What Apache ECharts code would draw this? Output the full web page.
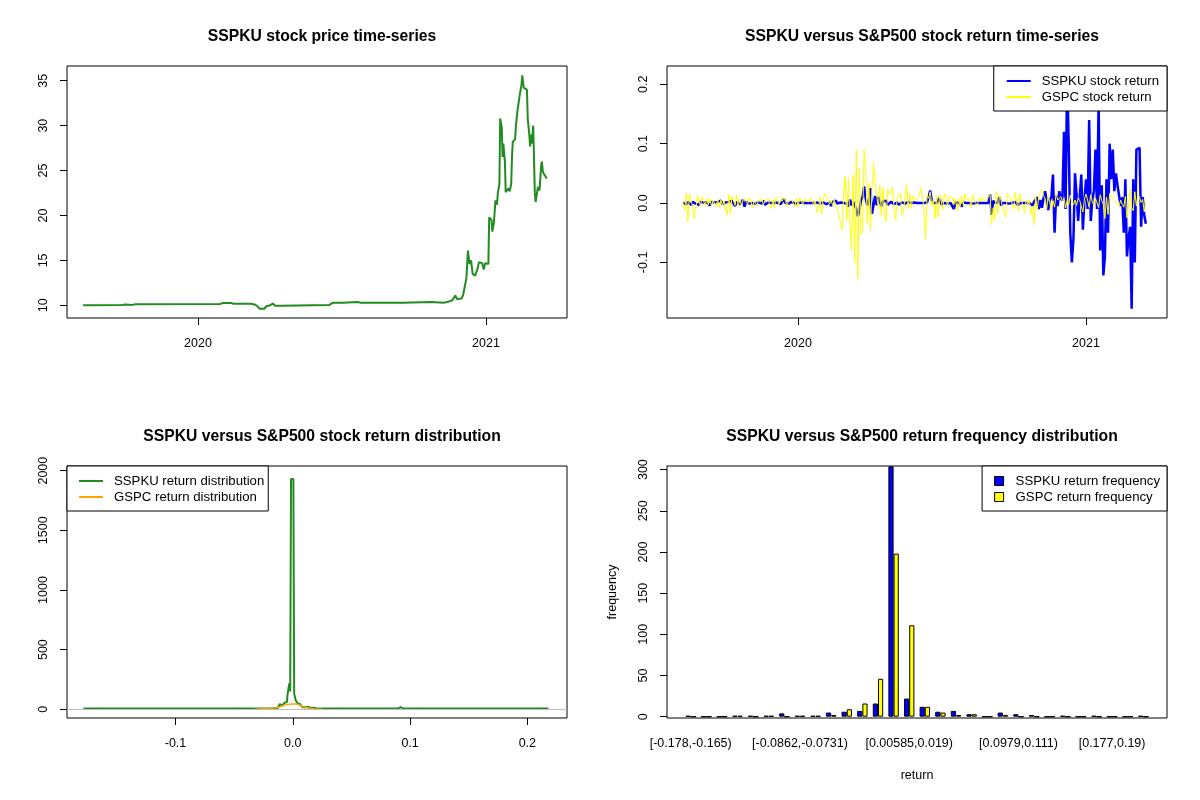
<!DOCTYPE html>
<html>
<head>
<meta charset="utf-8">
<title>SSPKU vs S&amp;P500</title>
<script src="https://cdn.jsdelivr.net/npm/echarts@6/dist/echarts.min.js"></script>
<style>
  html, body { margin: 0; padding: 0; background: #fff; }
  #chart { width: 1200px; height: 800px; }
</style>
</head>
<body>
<div id="chart"></div>
<script>
// ---------- data ----------

// SSPKU closing price (turning points of the daily line)
const priceDates = ['2019-08-08','2019-09-26','2019-10-01','2019-10-09','2019-10-14','2020-01-29','2020-02-01','2020-02-12','2020-02-15','2020-03-08',
  '2020-03-13','2020-03-16','2020-03-19','2020-03-25','2020-03-28','2020-04-01','2020-04-05','2020-04-08','2020-04-16','2020-04-18',
  '2020-06-16','2020-06-20','2020-07-03','2020-07-05','2020-07-22','2020-07-25','2020-09-17','2020-09-19','2020-10-23','2020-10-25',
  '2020-11-09','2020-11-14','2020-11-19','2020-11-23','2020-11-25','2020-12-01','2020-12-03','2020-12-05','2020-12-07','2020-12-09',
  '2020-12-11','2020-12-13','2020-12-15','2020-12-18','2020-12-21','2020-12-23','2020-12-27','2020-12-29','2020-12-31','2021-01-04',
  '2021-01-05','2021-01-08','2021-01-09','2021-01-11','2021-01-13','2021-01-15','2021-01-16','2021-01-18','2021-01-19','2021-01-21',
  '2021-01-22','2021-01-23','2021-01-25','2021-01-26','2021-01-29','2021-01-31','2021-02-02','2021-02-03','2021-02-04','2021-02-07',
  '2021-02-08','2021-02-10','2021-02-13','2021-02-15','2021-02-16','2021-02-18','2021-02-20','2021-02-22','2021-02-23','2021-02-25',
  '2021-02-26','2021-02-27','2021-02-28','2021-03-02','2021-03-03','2021-03-04','2021-03-05','2021-03-07','2021-03-08','2021-03-10',
  '2021-03-12','2021-03-13','2021-03-14','2021-03-15','2021-03-17','2021-03-18','2021-03-19'];
const priceValues = [10.0, 10.05, 10.1, 10.05, 10.12, 10.15, 10.25, 10.25, 10.18, 10.18,
  10.1, 9.95, 9.62, 9.62, 9.9, 9.98, 10.2, 9.95, 9.95, 10.05,
  10.05, 10.28, 10.3, 10.38, 10.38, 10.3, 10.3, 10.38, 10.38, 10.28,
  10.3, 10.4, 10.55, 11.1, 10.7, 10.75, 11.2, 11.3, 13.0, 16.1,
  14.6, 15.0, 13.5, 13.3, 14.0, 14.8, 14.7, 14.0, 14.7, 14.6,
  19.8, 19.5, 18.2, 19.2, 21.7, 21.2, 22.5, 23.5, 30.8, 29.8,
  26.5, 28.0, 26.0, 22.6, 23.0, 22.7, 23.5, 26.5, 28.2, 28.5,
  30.0, 31.7, 33.5, 34.5, 35.6, 34.2, 34.0, 34.0, 30.8, 29.0,
  27.7, 29.0, 28.0, 30.0, 29.8, 22.6, 21.5, 21.4, 23.2, 22.8,
  25.5, 26.0, 25.0, 24.7, 24.9, 24.3, 24.1];

// daily returns, one reading every 2 calendar days from 2019-08-08
const retStart = '2019-08-08';
const retStepDays = 2;
const sspkuRet = [
  0.000, 0.001, -0.002, 0.002, 0.000, -0.003, 0.002, 0.000, -0.001, 0.001,
  -0.003, 0.002, 0.000, 0.001, -0.002, 0.001, 0.000, -0.004, 0.002, 0.000,
  0.001, -0.001, 0.002, 0.000, 0.004, -0.002, 0.000, 0.001, -0.001, 0.002,
  0.000, 0.004, -0.001, -0.005, 0.002, 0.000, -0.002, 0.001, 0.005, -0.006,
  0.002, 0.000, -0.001, 0.001, 0.000, 0.002, -0.001, 0.000, 0.001, 0.000,
  -0.001, 0.004, -0.003, 0.000, 0.001, -0.001, 0.000, 0.002, 0.000, -0.001,
  0.001, 0.000, -0.002, -0.005, 0.007, 0.000, 0.001, -0.001, 0.000, 0.002,
  0.000, -0.001, 0.001, 0.000, 0.000, 0.001, -0.001, 0.000, 0.002, 0.000,
  -0.002, 0.000, 0.001, 0.000, -0.002, 0.001, 0.000, -0.001, 0.000, 0.001,
  0.000, -0.002, 0.000, 0.001, -0.005, 0.002, 0.000, 0.004, -0.001, 0.000,
  0.001, -0.002, 0.000, 0.003, -0.001, -0.006, 0.006, -0.004, 0.002, 0.000,
  -0.010, -0.022, -0.012, 0.004, 0.010, 0.028, 0.008, -0.004, 0.003, 0.025,
  -0.018, -0.020, 0.012, -0.004, 0.010, 0.002, -0.005, 0.003, 0.000, 0.004,
  -0.003, 0.000, 0.002, 0.005, -0.002, 0.000, 0.001, -0.003, 0.000, 0.001,
  0.000, -0.001, 0.000, 0.002, 0.000, 0.000, -0.001, 0.001, 0.000, 0.000,
  0.001, 0.000, -0.001, 0.000, 0.000, 0.001, 0.000, 0.021, 0.004, 0.000,
  0.002, 0.000, 0.003, 0.008, -0.002, 0.001, 0.000, 0.000, -0.001, 0.000,
  0.000, 0.001, -0.010, 0.000, -0.002, 0.001, 0.000, -0.006, 0.001, -0.001,
  0.000, 0.001, 0.000, 0.000, -0.001, 0.000, 0.000, 0.001, 0.000, 0.000,
  0.000, 0.001, 0.000, -0.001, 0.000, 0.015, -0.020, 0.004, 0.000, 0.000,
  0.001, 0.010, -0.004, 0.000, 0.001, 0.000, 0.000, -0.001, 0.000, 0.000,
  0.000, 0.002, 0.000, -0.004, 0.000, 0.001, 0.000, 0.003, 0.000, -0.002,
  0.000, 0.001, -0.004, 0.002, 0.003, 0.010, -0.010, 0.005, -0.008, 0.008,
  0.020, 0.004, -0.012, 0.006, 0.010, 0.048, -0.050, 0.012, -0.005, 0.020,
  0.008, 0.004, 0.120, -0.010, 0.215, 0.100, -0.050, -0.100, -0.060, 0.050,
  0.015, -0.030, 0.010, 0.048, -0.045, 0.006, 0.040, -0.010, 0.140, -0.030,
  0.005, 0.020, 0.090, -0.010, 0.170, -0.080, 0.030, -0.122, -0.090, 0.040,
  -0.050, 0.100, 0.040, 0.090, 0.020, 0.050, 0.030, 0.030, -0.005, 0.010,
  -0.050, 0.040, -0.090, -0.060, -0.040, -0.178, 0.040, -0.100, 0.090, 0.088,
  0.093, -0.040, 0.010, -0.020, -0.035];
const gspcRet = [
  0.000, -0.012, 0.016, -0.031, 0.015, 0.012, -0.006, -0.026, -0.012, 0.013,
  0.015, -0.005, 0.011, 0.013, -0.004, 0.007, -0.003, 0.008, -0.005, 0.004,
  0.002, -0.005, 0.006, -0.008, 0.005, -0.004, 0.004, -0.012, -0.020, 0.015,
  -0.018, 0.012, 0.010, -0.004, 0.013, -0.006, 0.007, -0.004, 0.005, 0.004,
  0.006, -0.003, 0.009, 0.004, -0.008, 0.003, 0.002, -0.004, 0.006, 0.002,
  0.008, -0.003, 0.004, 0.002, 0.008, -0.004, -0.009, 0.006, -0.008, 0.010,
  0.009, -0.002, 0.007, 0.003, 0.010, 0.004, -0.005, 0.004, 0.002, 0.005,
  0.005, -0.006, 0.008, -0.007, 0.010, 0.005, -0.003, 0.007, 0.003, 0.006,
  0.002, 0.008, 0.003, -0.003, 0.004, -0.016, -0.010, 0.010, -0.018, 0.007,
  0.015, 0.011, 0.010, -0.002, 0.005, -0.004, 0.005, -0.004, -0.011, -0.020,
  -0.034, -0.045, 0.015, 0.045, -0.029, 0.041, -0.034, -0.079, 0.048, -0.100,
  0.090, -0.128, 0.058, -0.052, -0.044, 0.090, 0.060, -0.034, 0.033, -0.045,
  0.023, 0.068, 0.033, 0.014, -0.010, 0.030, -0.022, 0.026, -0.018, -0.031,
  0.023, 0.014, 0.015, 0.026, -0.009, -0.028, 0.009, 0.012, 0.017, -0.021,
  -0.017, 0.012, 0.031, -0.010, 0.016, -0.008, 0.012, 0.015, 0.005, 0.008,
  0.013, 0.025, 0.012, -0.008, -0.061, 0.013, 0.008, 0.019, -0.004, 0.006,
  -0.026, 0.011, -0.024, 0.015, 0.015, -0.011, 0.016, 0.010, -0.006, 0.010,
  0.013, 0.009, -0.003, 0.008, -0.012, 0.007, -0.006, 0.012, -0.004, 0.015,
  0.007, 0.006, 0.006, -0.008, 0.014, 0.003, 0.003, -0.004, 0.008, 0.003,
  0.010, 0.007, 0.002, 0.007, 0.008, 0.015, -0.036, -0.008, -0.028, 0.020,
  -0.018, 0.013, 0.005, -0.009, -0.012, -0.024, 0.016, 0.016, 0.008, 0.008,
  -0.010, 0.018, 0.017, -0.014, 0.016, 0.006, -0.007, -0.016, 0.005, -0.002,
  0.005, -0.019, -0.005, -0.036, 0.012, -0.012, 0.012, 0.018, 0.022, 0.012,
  0.008, -0.010, 0.014, 0.012, -0.012, 0.004, -0.007, 0.016, 0.005, 0.004,
  0.011, 0.003, 0.009, -0.008, 0.004, -0.003, 0.013, 0.002, -0.003, 0.005,
  -0.004, 0.009, 0.004, 0.007, -0.015, 0.007, 0.015, 0.005, -0.007, 0.014,
  0.002, -0.004, 0.008, 0.010, -0.008, 0.014, 0.004, -0.002, -0.026, 0.010,
  -0.019, 0.016, 0.011, 0.011, 0.004, 0.005, -0.001, -0.006, 0.005, -0.002,
  -0.007, 0.011, -0.025, -0.005, 0.024, -0.008, -0.013, 0.019, -0.005, 0.014,
  0.010, 0.001, 0.006, -0.015, 0.003];

// kernel density curves [return, density]
const sspkuDensity = [
  [-0.1785, 7], [-0.100, 7], [-0.099, 14], [-0.098, 7], [-0.091, 7], [-0.090, 12], [-0.089, 7],
  [-0.080, 7], [-0.079, 13], [-0.078, 7], [-0.060, 7], [-0.059, 14], [-0.058, 7], [-0.052, 7],
  [-0.051, 13], [-0.050, 7], [-0.046, 7], [-0.045, 14], [-0.044, 7], [-0.040, 7], [-0.039, 12],
  [-0.038, 7], [-0.036, 7], [-0.035, 13], [-0.034, 7], [-0.031, 7], [-0.030, 14], [-0.029, 7],
  [-0.024, 7], [-0.023, 16], [-0.022, 7], [-0.019, 7], [-0.018, 15], [-0.017, 9], [-0.015, 12],
  [-0.013, 8], [-0.012, 18], [-0.011, 45], [-0.010, 50], [-0.009, 30], [-0.008, 40], [-0.007, 55],
  [-0.006, 45], [-0.005, 60], [-0.0045, 120], [-0.004, 110], [-0.003, 218], [-0.0022, 150],
  [-0.0015, 1930], [0.0005, 1930], [0.0012, 130], [0.0018, 120], [0.0025, 75], [0.003, 60],
  [0.004, 50], [0.005, 40], [0.006, 45], [0.007, 30], [0.008, 20], [0.009, 28], [0.010, 15],
  [0.012, 20], [0.013, 10], [0.015, 15], [0.016, 8], [0.020, 8], [0.021, 14], [0.022, 7],
  [0.025, 7], [0.026, 17], [0.027, 7], [0.030, 7], [0.031, 14], [0.032, 7], [0.035, 7],
  [0.036, 12], [0.037, 7], [0.040, 7], [0.041, 15], [0.042, 7], [0.046, 7], [0.047, 13],
  [0.048, 7], [0.052, 7], [0.053, 14], [0.054, 7], [0.060, 7], [0.061, 12], [0.062, 7],
  [0.070, 7], [0.071, 11], [0.072, 7], [0.090, 7], [0.091, 16], [0.092, 18], [0.093, 14],
  [0.094, 7], [0.100, 7], [0.101, 12], [0.102, 7], [0.110, 7], [0.111, 12], [0.112, 7],
  [0.120, 7], [0.121, 11], [0.122, 7], [0.140, 7], [0.141, 12], [0.142, 7], [0.170, 7],
  [0.171, 14], [0.172, 7], [0.214, 7], [0.2155, 16], [0.217, 7], [0.218, 7]];
const gspcDensity = [
  [-0.032, 0], [-0.028, 3], [-0.024, 6], [-0.020, 8], [-0.017, 10], [-0.014, 13], [-0.011, 20],
  [-0.009, 28], [-0.007, 35], [-0.005, 40], [-0.003, 42], [0.000, 44], [0.003, 45], [0.005, 38],
  [0.007, 30], [0.009, 22], [0.011, 16], [0.013, 11], [0.016, 6], [0.019, 3], [0.022, 1], [0.025, 0]];

// return-frequency histogram (30 bins)
const binBreaks = ['-0.178', '-0.165', '-0.152', '-0.139', '-0.125', '-0.112', '-0.0992', '-0.0862',
  '-0.0731', '-0.0599', '-0.0468', '-0.0337', '-0.0205', '-0.00741', '0.00585', '0.019', '0.0321',
  '0.0453', '0.0584', '0.0715', '0.0847', '0.0979', '0.111', '0.124', '0.137', '0.15', '0.163',
  '0.177', '0.19', '0.203', '0.216'];
const binLabelIdx = [0, 7, 14, 21, 27];
const sspkuFreq = [1, 0, 0, 1, 1, 1, 4, 1, 1, 5, 6, 7, 16, 304, 22, 12, 6, 7, 3, 0, 5, 3, 2, 0, 1, 0, 1, 0, 0, 1];
const gspcFreq = [0, 0, 0, 1, 0, 1, 0, 1, 1, 2, 9, 16, 46, 198, 111, 12, 5, 2, 3, 0, 2, 0, 0, 0, 0, 0, 0, 0, 0, 0];

// axis ticks
const yearTickDates = ['2020-01-01', '2021-01-01'];
const priceTicks = [10, 15, 20, 25, 30, 35];
const retTicks = [-0.1, 0, 0.1, 0.2];
const densTicks = [0, 500, 1000, 1500, 2000];
const freqTicks = [0, 50, 100, 150, 200, 250, 300];

// ---------- chart ----------
const FONT = '"Liberation Sans", Arial, sans-serif';
const axisFont = { color: '#000', fontFamily: FONT, fontSize: 12.5 };
const titleFont = { color: '#000', fontFamily: FONT, fontSize: 15.7, fontWeight: 'bold' };
const legendFont = { color: '#000', fontFamily: FONT, fontSize: 13.2, lineHeight: 14 };

const DAY = 86400000;
const toMs = (s) => Date.UTC(+s.slice(0, 4), +s.slice(5, 7) - 1, +s.slice(8, 10));
const retT0 = toMs(retStart);
const retTimes = sspkuRet.map((_, i) => retT0 + retStepDays * i * DAY);
const yearTicks = yearTickDates.map(toMs);
const tMin = toMs('2019-07-18') + 0.5 * DAY;
const tMax = toMs('2021-04-13') + 0.9 * DAY;
const binNames = binBreaks.slice(0, -1).map((b, i) => '[' + b + ',' + binBreaks[i + 1] + ')');

const tick = (vals) => ({ show: true, inside: false, length: 7, customValues: vals, lineStyle: { color: '#000' } });
const fmt1 = (v) => v.toFixed(1);
const fmtYear = (v) => String(new Date(v).getUTCFullYear());

function xAxisR(gridIndex, min, max, ticks, formatter) {
  return {
    type: 'value', gridIndex, min, max, scale: true,
    axisLine: { show: false, onZero: false },
    axisTick: tick(ticks),
    axisLabel: Object.assign({ margin: 19, customValues: ticks, formatter }, axisFont),
    splitLine: { show: false }
  };
}
function yAxisR(gridIndex, min, max, ticks, formatter) {
  return {
    type: 'value', gridIndex, min, max, scale: true,
    axisLine: { show: false, onZero: false },
    axisTick: tick(ticks),
    axisLabel: Object.assign({ rotate: 90, margin: 17, customValues: ticks, formatter }, axisFont),
    splitLine: { show: false }
  };
}
const frame = { show: true, borderColor: '#000', borderWidth: 1, backgroundColor: 'transparent' };
const legendBox = {
  orient: 'vertical', itemWidth: 24, itemHeight: 14, itemGap: 2,
  backgroundColor: '#fff', borderColor: '#000', borderWidth: 1, borderRadius: 0,
  selectedMode: false, z: 10,
  itemStyle: { opacity: 0 },
  textStyle: Object.assign({ padding: [0, 0, 0, 6] }, legendFont)
};

const chart = echarts.init(document.getElementById('chart'));

chart.setOption({
  backgroundColor: '#fff',
  animation: false,
  title: [
    { text: 'SSPKU stock price time-series', left: 317, top: 24, textAlign: 'center', textStyle: titleFont },
    { text: 'SSPKU versus S&P500 stock return time-series', left: 917, top: 24, textAlign: 'center', textStyle: titleFont },
    { text: 'SSPKU versus S&P500 stock return distribution', left: 317, top: 424, textAlign: 'center', textStyle: titleFont },
    { text: 'SSPKU versus S&P500 return frequency distribution', left: 917, top: 424, textAlign: 'center', textStyle: titleFont }
  ],
  legend: [
    Object.assign({}, legendBox, {
      data: ['SSPKU stock return', 'GSPC stock return'],
      right: 33, top: 66, padding: [8, 8, 7, 12]
    }),
    Object.assign({}, legendBox, {
      data: ['SSPKU return distribution', 'GSPC return distribution'],
      left: 67, top: 466, padding: [8, 4, 7, 11]
    }),
    Object.assign({}, legendBox, {
      data: ['SSPKU return frequency', 'GSPC return frequency'],
      right: 33, top: 466, padding: [8, 7, 7, 12],
      icon: 'rect', itemWidth: 9, itemHeight: 9,
      itemStyle: { borderColor: '#000', borderWidth: 1 },
      textStyle: Object.assign({ padding: [0, 0, 0, 7] }, legendFont)
    })
  ],
  graphic: [
    { type: 'rect', z: 5, shape: { x: 667, y: 466, width: 500, height: 252 },
      style: { fill: 'none', stroke: '#000', lineWidth: 1 } }
  ],
  grid: [
    Object.assign({ left: 67, top: 66, width: 500, height: 252 }, frame),
    Object.assign({ left: 667, top: 66, width: 500, height: 252 }, frame),
    Object.assign({ left: 67, top: 466, width: 500, height: 252 }, frame),
    { show: false, left: 682.9, top: 466, width: 468.2, height: 252 }
  ],
  xAxis: [
    xAxisR(0, tMin, tMax, yearTicks, fmtYear),
    xAxisR(1, tMin, tMax, yearTicks, fmtYear),
    xAxisR(2, -0.1925, 0.2338, retTicks, fmt1),
    {
      type: 'category', gridIndex: 3, data: binNames, boundaryGap: true,
      axisLine: { show: false, onZero: false }, axisTick: { show: false }, splitLine: { show: false },
      axisLabel: Object.assign({ margin: 19, interval: (i) => binLabelIdx.includes(i) }, axisFont),
      name: 'return', nameLocation: 'middle', nameGap: 51,
      nameTextStyle: axisFont
    }
  ],
  yAxis: [
    yAxisR(0, 8.59, 36.64, priceTicks, (v) => String(v)),
    yAxisR(1, -0.1936, 0.2308, retTicks, fmt1),
    yAxisR(2, -73, 2039, densTicks, (v) => String(v)),
    Object.assign(yAxisR(3, -1.6, 304.4, freqTicks, (v) => String(v)), {
      offset: 15.9,
      name: 'frequency', nameLocation: 'middle', nameGap: 48, nameRotate: 90,
      nameTextStyle: axisFont
    })
  ],
  series: [
    {
      name: 'SSPKU price', type: 'line', xAxisIndex: 0, yAxisIndex: 0,
      data: priceDates.map((d, k) => [toMs(d), priceValues[k]]),
      symbol: 'none', lineStyle: { color: '#228B22', width: 2 }, itemStyle: { color: '#228B22' }
    },
    {
      name: 'SSPKU stock return', type: 'line', xAxisIndex: 1, yAxisIndex: 1,
      data: retTimes.map((t, i) => [t, sspkuRet[i]]),
      symbol: 'none', lineStyle: { color: '#0000FF', width: 2.5 }, itemStyle: { color: '#0000FF' }
    },
    {
      name: 'GSPC stock return', type: 'line', xAxisIndex: 1, yAxisIndex: 1,
      data: retTimes.map((t, i) => [t, gspcRet[i]]),
      symbol: 'none', lineStyle: { color: '#FFFF00', width: 1 }, itemStyle: { color: '#FFFF00' }
    },
    {
      name: 'SSPKU return distribution', type: 'line', xAxisIndex: 2, yAxisIndex: 2,
      data: sspkuDensity, z: 2,
      symbol: 'none', lineStyle: { color: '#228B22', width: 2 }, itemStyle: { color: '#228B22' },
      markLine: {
        silent: true, symbol: ['none', 'none'], label: { show: false },
        lineStyle: { color: '#BEBEBE', width: 1, type: 'solid' },
        data: [{ yAxis: 0 }]
      }
    },
    {
      name: 'GSPC return distribution', type: 'line', xAxisIndex: 2, yAxisIndex: 2,
      data: gspcDensity, z: 3,
      symbol: 'none', lineStyle: { color: '#FFA500', width: 1.5 }, itemStyle: { color: '#FFA500' }
    },
    {
      name: 'SSPKU return frequency', type: 'bar', xAxisIndex: 3, yAxisIndex: 3,
      data: sspkuFreq, barWidth: 5.2, barGap: '0%',
      itemStyle: { color: '#0000FF', borderColor: '#000', borderWidth: 1 }
    },
    {
      name: 'GSPC return frequency', type: 'bar', xAxisIndex: 3, yAxisIndex: 3,
      data: gspcFreq, barWidth: 5.2, barGap: '0%',
      itemStyle: { color: '#FFFF00', borderColor: '#000', borderWidth: 1 }
    }
  ]
});
</script>
</body>
</html>
